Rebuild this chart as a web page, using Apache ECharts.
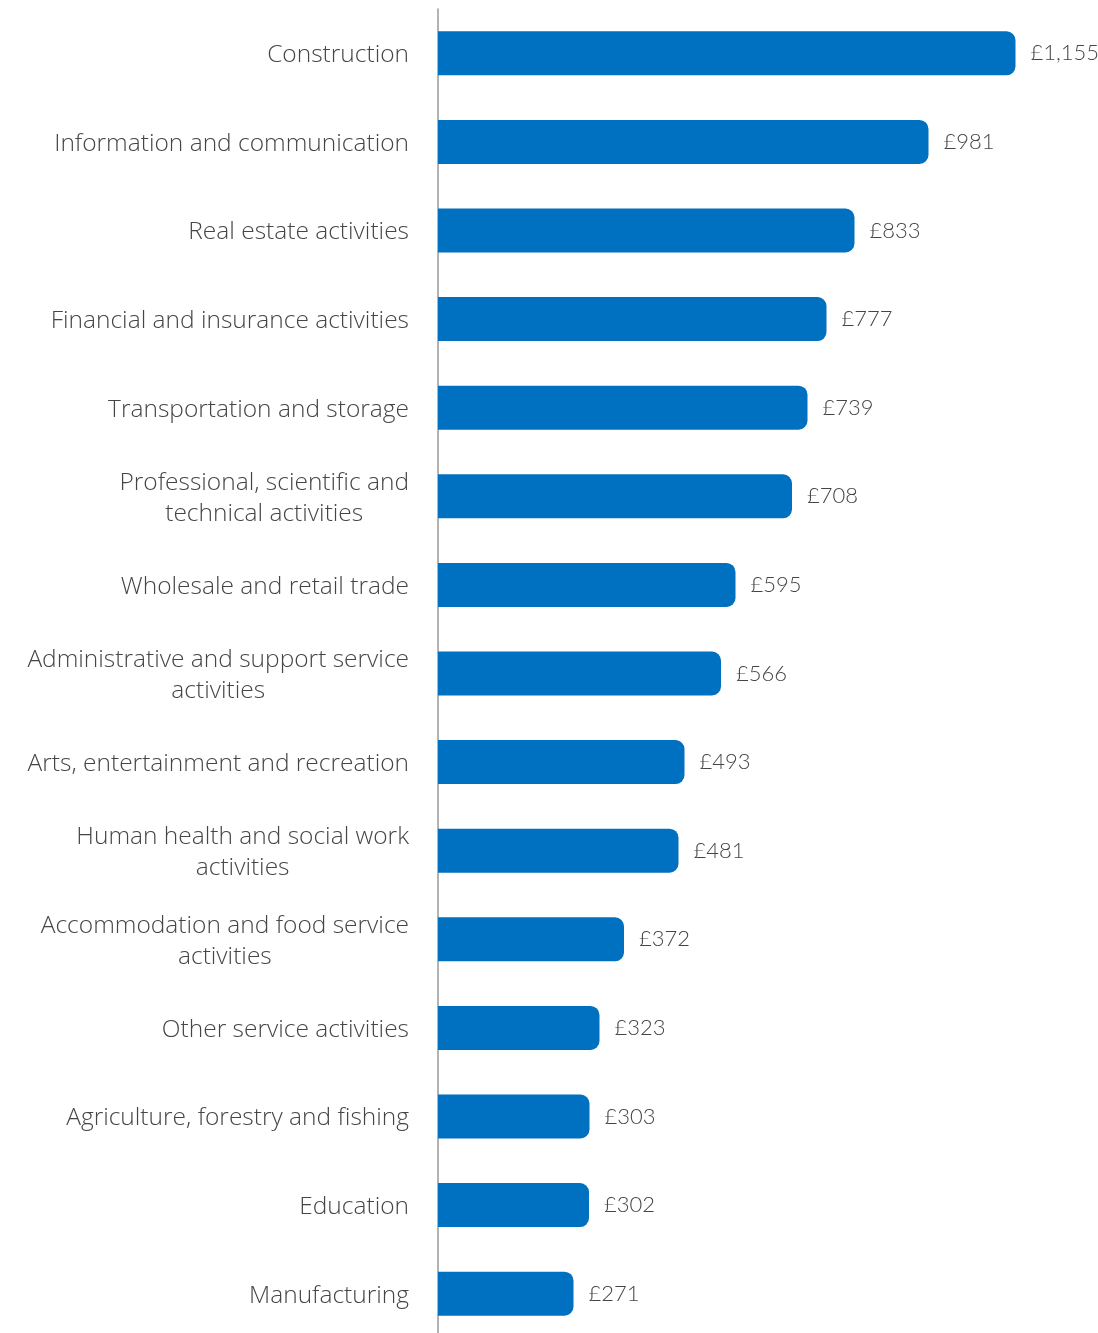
<!DOCTYPE html>
<html>
<head>
<meta charset="utf-8">
<script src="https://cdn.jsdelivr.net/npm/echarts@6/dist/echarts.min.js"></script>
<style>
  html, body { margin: 0; padding: 0; background: #ffffff; }
  #chart { width: 1098px; height: 1333px; }
</style>
</head>
<body>
<div id="chart"></div>
<script>
// Sectors, top to bottom
const sectors = [
  'Construction',
  'Information and communication',
  'Real estate activities',
  'Financial and insurance activities',
  'Transportation and storage',
  'Professional, scientific and\ntechnical activities',
  'Wholesale and retail trade',
  'Administrative and support service\nactivities',
  'Arts, entertainment and recreation',
  'Human health and social work\nactivities',
  'Accommodation and food service\nactivities',
  'Other service activities',
  'Agriculture, forestry and fishing',
  'Education',
  'Manufacturing'
];

// Value per sector (£)
const values = [1155, 981, 833, 777, 739, 708, 595, 566, 493, 481, 372, 323, 303, 302, 271];

const CAT_FONT = '"Open Sans", sans-serif';
const VAL_FONT = 'Lato, sans-serif';
const TEXT = '#454545';

const chart = echarts.init(document.getElementById('chart'), null, { renderer: 'canvas' });

chart.setOption({
  animation: false,
  backgroundColor: '#ffffff',
  grid: {
    left: 438, width: 660, top: 9, height: 1329,
    containLabel: false,
    outerBoundsMode: 'none'
  },
  xAxis: {
    type: 'value',
    min: 0,
    max: 1320,
    show: false
  },
  yAxis: {
    type: 'category',
    data: sectors,
    inverse: true,
    axisLine: { show: true, lineStyle: { color: '#9a9a9a', width: 1.5 } },
    axisTick: { show: false },
    splitLine: { show: false },
    axisLabel: {
      margin: 29,
      align: 'right',
      padding: [4, 0, 0, 0],
      formatter: function (v) {
        return v.split('\n').map(function (s) { return '{c|' + s + '}'; }).join('\n');
      },
      rich: {
        c: {
          align: 'center',
          fontFamily: CAT_FONT,
          fontSize: 24.5,
          fontWeight: 300,
          color: TEXT,
          lineHeight: 31
        }
      }
    }
  },
  series: [{
    type: 'bar',
    data: values,
    barWidth: 44,
    itemStyle: { color: '#0070C0', borderRadius: [0, 9, 9, 0] },
    label: {
      show: true,
      position: 'right',
      distance: 15,
      padding: [3, 0, 0, 0],
      fontFamily: VAL_FONT,
      fontSize: 22,
      fontWeight: 300,
      color: TEXT,
      formatter: function (p) { return '£' + p.value.toLocaleString('en-GB'); }
    }
  }]
});
</script>
</body>
</html>
